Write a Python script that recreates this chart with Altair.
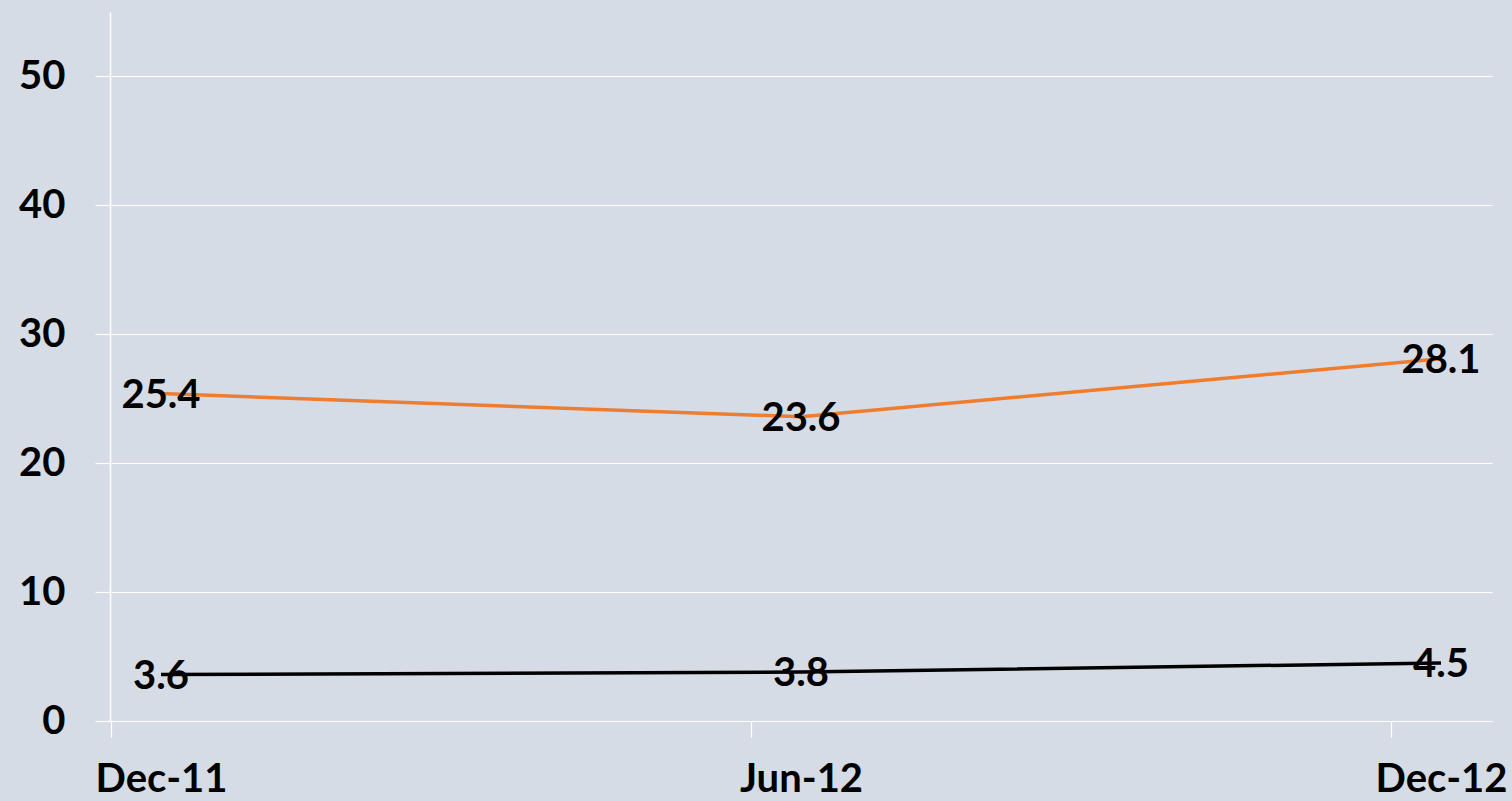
import altair as alt
import pandas as pd

periods = ["Dec-11", "Jun-12", "Dec-12"]
series_a = [25.4, 23.6, 28.1]
series_b = [3.6, 3.8, 4.5]
series_names = ["A", "B"]
series_colors = ["#ED7D31", "#000000"]

rows = []
for name, vals in zip(series_names, [series_a, series_b]):
    for p, v in zip(periods, vals):
        rows.append({"period": p, "value": v, "series": name})
df = pd.DataFrame(rows)

FONT = "Lato"
x_enc = alt.X(
    "period:N",
    sort=periods,
    scale=alt.Scale(type="point", padding=0.0797),
    axis=alt.Axis(
        title=None, labelAngle=0, labelFont=FONT, labelFontWeight="bold",
        labelFontSize=40, labelColor="#000000", labelPadding=22,
        tickColor="#FFFFFF", tickSize=16, tickWidth=1.2, tickOffset=-50,
        labelOffset=50, domainColor="#FFFFFF", domainWidth=1.2, grid=False,
    ),
)
y_enc = alt.Y(
    "value:Q",
    scale=alt.Scale(domain=[0, 55], nice=False),
    axis=alt.Axis(
        title=None, values=[0, 10, 20, 30, 40, 50], labelFont=FONT,
        labelFontWeight="bold", labelFontSize=40, labelColor="#000000",
        labelPadding=30, tickColor="#FFFFFF", tickSize=15, tickWidth=1.2,
        domainColor="#FFFFFF", domainWidth=1.5, gridColor="#FFFFFF",
        gridWidth=1.2, gridOpacity=1,
    ),
)
color = alt.Color("series:N", scale=alt.Scale(domain=series_names, range=series_colors), legend=None)

base = alt.Chart(df).encode(x=x_enc, y=y_enc)
lines = base.mark_line(strokeWidth=3.5).encode(color=color, detail="series:N")
labels = base.mark_text(
    font=FONT, fontWeight="bold", fontSize=40, color="#000000",
    align="center", baseline="middle", dy=2,
).encode(text=alt.Text("value:Q", format=".1f"))

chart = (
    alt.layer(lines, labels)
    .properties(
        width=1382, height=709,
        autosize=alt.AutoSizeParams(type="none"),
        padding={"left": 110, "top": 12, "right": 20, "bottom": 80},
        background="#D6DCE5",
    )
    .configure_view(stroke=None, fill="#D6DCE5")
)

chart.save("out.html", embed_options={"renderer": "svg", "actions": False})
